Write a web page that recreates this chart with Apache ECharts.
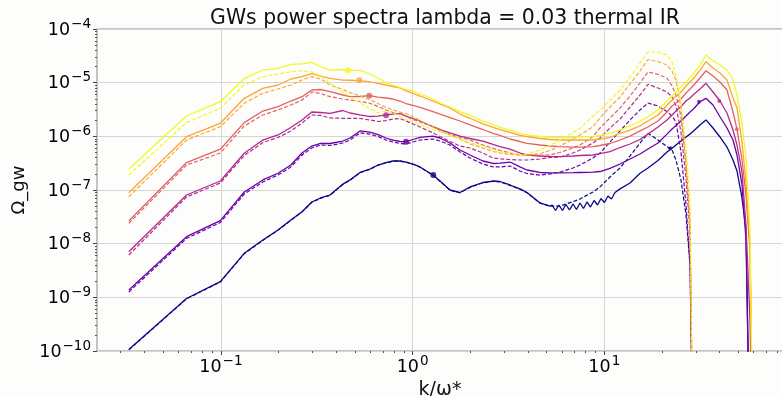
<!DOCTYPE html>
<html><head><meta charset="utf-8">
<script src="https://cdn.jsdelivr.net/npm/echarts@6/dist/echarts.min.js"></script>
<style>html,body{margin:0;padding:0;background:#fdfdfb}#c{width:782px;height:396px}</style>
</head><body><div id="c"></div>
<script>
// wavenumber grid k/omega*
const k = [0.0331, 0.0662, 0.0993, 0.1324, 0.1655, 0.1986, 0.2317, 0.265, 0.298, 0.331,
  0.371, 0.433, 0.4715, 0.532, 0.5995, 0.660, 0.7265, 0.790, 0.860, 0.924,
  1.005, 1.093, 1.278, 1.390, 1.567, 1.767, 1.993, 2.329, 2.627, 2.857,
  3.222, 3.634, 3.953, 4.619, 5.209, 5.874, 6.866, 7.468, 8.732, 9.497,
  10.71, 12.08, 13.62, 15.36, 16.90, 19.06, 21.24, 22.56, 23.66, 25.12,
  26.69, 28.00, 29.03, 31.56, 33.93, 36.90, 40.13, 43.65, 46.92, 49.23,
  52.28, 54.85, 57.54, 59.66];

const yellowSolid = [2.46e-7, 2.39e-6, 4.42e-6, 1.2e-5, 1.72e-5, 1.85e-5, 2.2e-5, 2.23e-5, 2.38e-5, 2.0e-5,
  1.72e-5, 1.76e-5, 1.70e-5, 1.69e-5, 1.45e-5, 1.22e-5, 1.0e-5, 9.05e-6, 8.13e-6, 7.46e-6,
  7.0e-6, 6.15e-6, 4.96e-6, 4.18e-6, 3.52e-6, 2.88e-6, 2.45e-6, 1.93e-6, 1.66e-6, 1.47e-6,
  1.29e-6, 1.13e-6, 1.06e-6, 9.93e-7, 9.51e-7, 9.43e-7, 9.51e-7, 9.63e-7, 9.84e-7, 1.04e-6,
  1.14e-6, 1.31e-6, 1.56e-6, 1.93e-6, 2.31e-6, 3.1e-6, 4.55e-6, 5.64e-6, 6.7e-6, 8.3e-6,
  1.03e-5, 1.25e-5, 1.45e-5, 2.13e-5, 3.28e-5, 2.53e-5, 2.13e-5, 1.72e-5, 1.12e-5, 5.89e-6,
  1.7e-6, 3.95e-7, 1.8e-8, 1e-12];
const yellowDashed = [1.9e-7, 1.8e-6, 3.33e-6, 9.05e-6, 1.29e-5, 1.45e-5, 1.6e-5, 1.65e-5, 1.58e-5, 1.33e-5,
  9.73e-6, 6.7e-6, 5.48e-6, 4.18e-6, 3.3e-6, 2.72e-6, 2.96e-6, 2.72e-6, 2.31e-6, 2.02e-6,
  1.85e-6, 1.63e-6, 1.34e-6, 1.22e-6, 1.06e-6, 9.19e-7, 7.51e-7, 6.6e-7, 5.57e-7, 5.17e-7,
  4.78e-7, 4.49e-7, 4.68e-7, 5.57e-7, 6.75e-7, 8.54e-7, 1.18e-6, 1.41e-6, 2.39e-6, 3.1e-6,
  4.75e-6, 7.3e-6, 1.28e-5, 2.33e-5, 3.73e-5, 3.73e-5, 3.28e-5, 2.43e-5, 1.33e-5, 4.36e-6,
  6.06e-7, 6.51e-8, 1e-12];

const orangeSolid = [8.9e-8, 9.84e-7, 1.75e-6, 5.11e-6, 7.85e-6, 9.05e-6, 1.17e-5, 1.3e-5, 1.48e-5, 1.33e-5,
  1.2e-5, 1.12e-5, 1.11e-5, 1.09e-5, 1.03e-5, 9.73e-6, 9.05e-6, 8.48e-6, 7.96e-6, 7.0e-6,
  6.29e-6, 5.64e-6, 4.55e-6, 4.0e-6, 3.37e-6, 2.6e-6, 2.17e-6, 1.7e-6, 1.47e-6, 1.34e-6,
  1.18e-6, 1.04e-6, 9.84e-7, 9.11e-7, 8.73e-7, 8.54e-7, 8.54e-7, 8.54e-7, 8.54e-7, 8.92e-7,
  9.43e-7, 1.14e-6, 1.31e-6, 1.56e-6, 1.93e-6, 2.5e-6, 3.83e-6, 4.75e-6, 5.64e-6, 6.7e-6,
  8.67e-6, 1.03e-5, 1.17e-5, 1.72e-5, 2.46e-5, 1.88e-5, 1.51e-5, 1.12e-5, 5.2e-6, 3.4e-6,
  7.84e-7, 1.35e-7, 9.4e-9, 1e-12];
const orangeDashed = [7.5e-8, 8.54e-7, 1.51e-6, 4.13e-6, 6.34e-6, 7.62e-6, 9.05e-6, 1.12e-5, 1.3e-5, 1.17e-5,
  9.05e-6, 7.46e-6, 6.56e-6, 5.64e-6, 4.75e-6, 4.09e-6, 3.45e-6, 3.1e-6, 2.84e-6, 2.66e-6,
  2.31e-6, 1.97e-6, 1.49e-6, 1.26e-6, 1.06e-6, 8.92e-7, 7.2e-7, 6.06e-7, 5.21e-7, 4.89e-7,
  4.58e-7, 4.49e-7, 4.49e-7, 4.78e-7, 5.45e-7, 6.6e-7, 8.92e-7, 1.06e-6, 1.51e-6, 2.2e-6,
  3.52e-6, 5.4e-6, 9.45e-6, 1.65e-5, 2.7e-5, 2.48e-5, 2.13e-5, 1.65e-5, 1.12e-5, 3.37e-6,
  2.92e-7, 1.96e-8, 1e-12];

const pinkSolid = [2.65e-8, 3.25e-7, 5.76e-7, 1.8e-6, 2.96e-6, 3.57e-6, 4.55e-6, 5.48e-6, 7.3e-6, 7.46e-6,
  6.79e-6, 5.89e-6, 5.48e-6, 5.52e-6, 5.72e-6, 5.4e-6, 5.18e-6, 4.96e-6, 4.55e-6, 4.09e-6,
  3.76e-6, 3.45e-6, 2.88e-6, 2.6e-6, 2.24e-6, 1.93e-6, 1.63e-6, 1.34e-6, 1.14e-6, 1.04e-6,
  8.92e-7, 8.01e-7, 7.42e-7, 6.89e-7, 6.6e-7, 6.41e-7, 6.32e-7, 6.32e-7, 6.41e-7, 6.75e-7,
  7.35e-7, 8.54e-7, 1.01e-6, 1.26e-6, 1.49e-6, 1.93e-6, 2.84e-6, 3.68e-6, 4.18e-6, 4.96e-6,
  6.42e-6, 7.62e-6, 8.67e-6, 1.22e-5, 1.67e-5, 1.33e-5, 1.03e-5, 7.3e-6, 2.84e-6, 1.35e-6,
  3.63e-7, 8.07e-8, 7.62e-9, 1e-12];
const pinkDashed = [2.4e-8, 2.92e-7, 4.89e-7, 1.56e-6, 2.5e-6, 3.1e-6, 3.83e-6, 4.75e-6, 6.7e-6, 6.29e-6,
  5.48e-6, 4.96e-6, 4.75e-6, 4.46e-6, 4.13e-6, 3.6e-6, 3.1e-6, 2.78e-6, 2.6e-6, 2.34e-6,
  2.06e-6, 1.85e-6, 1.51e-6, 1.34e-6, 1.1e-6, 9.51e-7, 8.54e-7, 6.89e-7, 5.98e-7, 5.45e-7,
  4.89e-7, 4.49e-7, 4.49e-7, 4.49e-7, 4.49e-7, 5.0e-7, 6.06e-7, 6.89e-7, 9.93e-7, 1.43e-6,
  2.2e-6, 3.37e-6, 5.64e-6, 9.86e-6, 1.58e-5, 1.43e-5, 1.22e-5, 8.67e-6, 5.89e-6, 2.31e-6,
  3.18e-7, 2.53e-8, 1e-12];

const magentaSolid = [7.09e-9, 8.07e-8, 1.47e-7, 4.83e-7, 8.54e-7, 1.06e-6, 1.46e-6, 2.02e-6, 2.84e-6, 2.78e-6,
  2.68e-6, 3.03e-6, 2.72e-6, 2.5e-6, 2.34e-6, 2.39e-6, 2.5e-6, 2.6e-6, 2.68e-6, 2.39e-6,
  2.15e-6, 1.93e-6, 1.51e-6, 1.34e-6, 1.16e-6, 1.01e-6, 9.11e-7, 8.18e-7, 7.05e-7, 6.41e-7,
  5.8e-7, 4.89e-7, 4.49e-7, 4.3e-7, 4.21e-7, 4.17e-7, 4.3e-7, 4.39e-7, 4.49e-7, 4.78e-7,
  5.21e-7, 6.19e-7, 7.2e-7, 8.73e-7, 1.1e-6, 1.49e-6, 2.02e-6, 2.5e-6, 2.96e-6, 3.6e-6,
  4.55e-6, 5.18e-6, 5.89e-6, 7.62e-6, 9.73e-6, 6.7e-6, 4.55e-6, 2.72e-6, 1.31e-6, 6.89e-7,
  2.16e-7, 2.23e-8, 3.78e-10, 1e-12];
const magentaDashed = [6.15e-9, 7.41e-8, 1.35e-7, 4.39e-7, 7.68e-7, 9.51e-7, 1.26e-6, 1.77e-6, 2.5e-6, 2.45e-6,
  2.2e-6, 2.17e-6, 2.17e-6, 2.15e-6, 2.02e-6, 1.89e-6, 1.97e-6, 2.1e-6, 2.15e-6, 1.93e-6,
  1.7e-6, 1.49e-6, 1.16e-6, 9.93e-7, 8.01e-7, 6.6e-7, 6.06e-7, 4.89e-7, 3.95e-7, 3.78e-7,
  3.7e-7, 3.62e-7, 3.62e-7, 3.78e-7, 4.03e-7, 4.12e-7, 4.89e-7, 5.57e-7, 7.51e-7, 9.31e-7,
  1.43e-6, 2.1e-6, 3.52e-6, 5.89e-6, 9.33e-6, 7.96e-6, 6.7e-6, 5.4e-6, 3.68e-6, 1.2e-6,
  1.67e-7, 1.65e-8, 1e-12];

const purpleSolid = [1.37e-9, 1.35e-8, 2.68e-8, 9.18e-8, 1.54e-7, 2.05e-7, 2.92e-7, 4.89e-7, 6.6e-7, 7.42e-7,
  7.35e-7, 8.18e-7, 9.31e-7, 1.26e-6, 1.2e-6, 1.08e-6, 9.31e-7, 8.54e-7, 8.01e-7, 7.95e-7,
  8.73e-7, 9.59e-7, 1.01e-6, 9.31e-7, 7.51e-7, 5.57e-7, 4.49e-7, 3.47e-7, 3.12e-7, 3.18e-7,
  3.32e-7, 2.69e-7, 2.36e-7, 2.12e-7, 2.08e-7, 2.08e-7, 2.1e-7, 2.12e-7, 2.16e-7, 2.21e-7,
  2.52e-7, 3.05e-7, 3.78e-7, 4.68e-7, 5.8e-7, 7.51e-7, 1.1e-6, 1.37e-6, 1.59e-6, 1.93e-6,
  2.39e-6, 2.84e-6, 3.16e-6, 4.42e-6, 5.11e-6, 3.83e-6, 2.32e-6, 1.43e-6, 8.54e-7, 4.49e-7,
  1.24e-7, 1.17e-8, 1e-12, null];
const purpleDashed = [1.26e-9, 1.25e-8, 2.48e-8, 8.42e-8, 1.41e-7, 1.9e-7, 2.68e-7, 4.49e-7, 6.06e-7, 6.89e-7,
  6.75e-7, 7.51e-7, 8.54e-7, 1.16e-6, 1.1e-6, 9.93e-7, 8.54e-7, 7.84e-7, 7.35e-7, 7.2e-7,
  7.84e-7, 8.54e-7, 8.92e-7, 8.18e-7, 6.89e-7, 5.11e-7, 3.95e-7, 3.05e-7, 2.69e-7, 2.69e-7,
  2.8e-7, 2.26e-7, 2.03e-7, 1.9e-7, 1.99e-7, 2.16e-7, 2.57e-7, 2.92e-7, 3.95e-7, 4.89e-7,
  7.84e-7, 1.26e-6, 2.02e-6, 3.1e-6, 4.18e-6, 3.68e-6, 2.88e-6, 2.39e-6, 1.85e-6, 5.11e-7,
  5.25e-8, 4.0e-9, 1e-12];

const blueSolid = [1.07e-10, 9.51e-10, 1.96e-9, 6.61e-9, 1.17e-8, 1.8e-8, 2.76e-8, 3.94e-8, 5.98e-8, 7.1e-8,
  8.07e-8, 1.29e-7, 1.54e-7, 2.12e-7, 2.46e-7, 2.92e-7, 3.25e-7, 3.47e-7, 3.47e-7, 3.32e-7,
  3.05e-7, 2.69e-7, 1.9e-7, 1.47e-7, 1e-7, 8.98e-8, 1.14e-7, 1.38e-7, 1.47e-7, 1.44e-7,
  1.24e-7, 1.05e-7, 8.98e-8, 5.73e-8, 5.03e-8, null, null, null, null, null,
  null, 1.05e-7, 1.35e-7, 2.05e-7, 2.57e-7, 3.55e-7, 5.11e-7, 5.98e-7, 6.89e-7, 8.18e-7,
  9.72e-7, 1.1e-6, 1.23e-6, 1.63e-6, 2.02e-6, 1.43e-6, 9.72e-7, 6.32e-7, 3.62e-7, 2.26e-7,
  7.1e-8, 1.8e-8, 1e-12, null];
// ripple segment of the lowest solid curve
const blueRippleK = [5.34, 5.57, 5.80, 6.05, 6.31, 6.58, 6.87, 7.16, 7.47, 7.79, 8.12, 8.47, 8.84, 9.22, 9.61, 10.02, 10.45, 10.90, 11.37];
const blueRipple = [5.25e-8, 4.15e-8, 5.25e-8, 4.15e-8, 5.37e-8, 4.24e-8, 5.48e-8, 4.33e-8, 5.73e-8, 4.52e-8,
  5.98e-8, 4.82e-8, 6.37e-8, 5.25e-8, 6.95e-8, 5.85e-8, 7.73e-8, 6.8e-8, 8.98e-8];
const blueDashed = [1.05e-10, 9.4e-10, 1.93e-9, 6.5e-9, 1.15e-8, 1.78e-8, 2.72e-8, 3.9e-8, 5.9e-8, 7.0e-8,
  8.0e-8, 1.27e-7, 1.52e-7, 2.1e-7, 2.43e-7, 2.9e-7, 3.22e-7, 3.44e-7, 3.44e-7, 3.3e-7,
  3.02e-7, 2.66e-7, 1.88e-7, 1.45e-7, 9.9e-8, 8.9e-8, 1.12e-7, 1.36e-7, 1.45e-7, 1.42e-7,
  1.22e-7, 1.03e-7, 8.9e-8, 5.7e-8, 5.0e-8, 5.03e-8, 6.05e-8, 6.8e-8, 9.2e-8, 1.14e-7,
  1.75e-7, 2.57e-7, 4.3e-7, 7.51e-7, 1.14e-6, 8.54e-7, 6.46e-7, 5.57e-7, 3.62e-7, 1.54e-7,
  3.42e-8, 4.0e-9, 1e-12];

// marker dots (blue, purple, magenta, pink, orange, yellow)
const markerK = [1.282, 0.924, 0.727, 0.594, 0.527, 0.462];
const markerVal = [1.9e-7, 7.95e-7, 2.47e-6, 5.72e-6, 1.11e-5, 1.7e-5];
const markerK2 = [22.1, 31.2, 39.8, 49.1];
const markerVal2 = [5.98e-7, 4.42e-6, 4.55e-6, 1.35e-6];

// axis ranges and major tick decades
const xRange = [0.022582, 85.55];
const yRange = [1e-10, 1e-4];
const xDecades = [-2, -1, 0, 1];
const yDecades = [-10, -9, -8, -7, -6, -5];

const colors = ['#0d0887', '#6a00a8', '#b12a90', '#e16462', '#fca636', '#f0f921'];

function pairs(xs, ys) {
  const out = [];
  for (let i = 0; i < xs.length && i < ys.length; i++) {
    if (ys[i] != null) out.push([xs[i], ys[i]]);
  }
  return out;
}
function minorTicks(decades, range) {
  const out = [];
  decades.forEach(e => { for (let m = 2; m <= 9; m++) { const v = m * Math.pow(10, e); if (v > range[0] && v < range[1]) out.push(v); } });
  return out;
}
const blueSolidData = pairs(k, blueSolid).concat(pairs(blueRippleK, blueRipple)).sort((a, b) => a[0] - b[0]);

const solidData = [blueSolidData, pairs(k, purpleSolid), pairs(k, magentaSolid), pairs(k, pinkSolid), pairs(k, orangeSolid), pairs(k, yellowSolid)];
const dashedData = [pairs(k, blueDashed), pairs(k, purpleDashed), pairs(k, magentaDashed), pairs(k, pinkDashed), pairs(k, orangeDashed), pairs(k, yellowDashed)];

const series = [];
for (let i = 0; i < 6; i++) {
  series.push({ type: 'line', data: solidData[i], showSymbol: false, symbol: 'none', silent: true,
    lineStyle: { color: colors[i], width: 1.3 }, z: 2 });
  series.push({ type: 'line', data: dashedData[i], showSymbol: false, symbol: 'none', silent: true,
    lineStyle: { color: colors[i], width: 1.2, type: [4, 2] }, z: 2 });
}
series.push({ type: 'scatter', symbolSize: 6, silent: true, z: 3,
  data: markerK.map((x, i) => ({ value: [x, markerVal[i]], itemStyle: { color: colors[i] } })) });
series.push({ type: 'scatter', symbolSize: 4, silent: true, z: 3,
  data: markerK2.map((x, i) => ({ value: [x, markerVal2[i]], itemStyle: { color: colors[i] } })) });

function powLabel(v) {
  const e = Math.log10(v);
  const r = Math.round(e);
  if (Math.abs(e - r) > 1e-6) return '';
  return '{b|10}{s|' + (r < 0 ? '\u2212' : '') + Math.abs(r) + '}';
}
const rich = {
  b: { fontSize: 17.5, fontFamily: 'DejaVu Sans', color: '#000', verticalAlign: 'bottom', lineHeight: 20 },
  s: { fontSize: 13.5, fontFamily: 'DejaVu Sans', color: '#000', verticalAlign: 'bottom', lineHeight: 15, padding: [0, 0, 8, 1] }
};
const minorAxisCommon = {
  axisLine: { show: false }, axisLabel: { show: false }, splitLine: { show: false }
};

const chart = echarts.init(document.getElementById('c'), null, { renderer: 'canvas' });
chart.setOption({
  animation: false,
  backgroundColor: '#fdfdfb',
  title: {
    text: 'GWs power spectra lambda = 0.03 thermal IR',
    left: 440, top: 4, textAlign: 'center',
    textStyle: { fontSize: 20.4, fontWeight: 'normal', color: '#111', fontFamily: 'DejaVu Sans' }
  },
  grid: { left: 97, right: -1, top: 29, bottom: 45, containLabel: false, outerBoundsMode: 'none',
    show: true, borderColor: '#8a8a8a', borderWidth: 1, backgroundColor: 'transparent' },
  xAxis: [{
    type: 'log', logBase: 10, min: xRange[0], max: xRange[1],
    name: 'k/\u03c9*', nameLocation: 'middle', nameGap: 19,
    nameTextStyle: { fontSize: 19, color: '#111', fontFamily: 'DejaVu Sans' },
    axisLine: { show: false },
    axisTick: { show: true, length: 4, lineStyle: { color: '#444' }, customValues: xDecades.map(e => Math.pow(10, e)).filter(v => v > xRange[0] && v < xRange[1]) },
    axisLabel: { formatter: powLabel, rich: rich, margin: 5, showMinLabel: false, showMaxLabel: false },
    splitLine: { show: true, lineStyle: { color: '#d6d6d6', width: 1 } }
  }, Object.assign({
    type: 'log', logBase: 10, min: xRange[0], max: xRange[1], position: 'bottom',
    axisTick: { show: true, length: 2, lineStyle: { color: '#555' }, customValues: minorTicks(xDecades, xRange) }
  }, minorAxisCommon)],
  yAxis: [{
    type: 'log', logBase: 10, min: yRange[0], max: yRange[1],
    name: '\u03a9_gw', nameLocation: 'middle', nameGap: 66, nameRotate: 90,
    nameTextStyle: { fontSize: 18, color: '#111', fontFamily: 'DejaVu Sans' },
    axisLine: { show: false },
    axisTick: { show: true, length: 4, lineStyle: { color: '#444' } },
    axisLabel: { formatter: powLabel, rich: rich, margin: 6 },
    splitLine: { show: true, lineStyle: { color: '#d6d6d6', width: 1 } }
  }, Object.assign({
    type: 'log', logBase: 10, min: yRange[0], max: yRange[1], position: 'left', offset: 0,
    axisTick: { show: true, length: 2, lineStyle: { color: '#555' }, customValues: minorTicks(yDecades, yRange) }
  }, minorAxisCommon)],
  series: series
});
</script></body></html>
